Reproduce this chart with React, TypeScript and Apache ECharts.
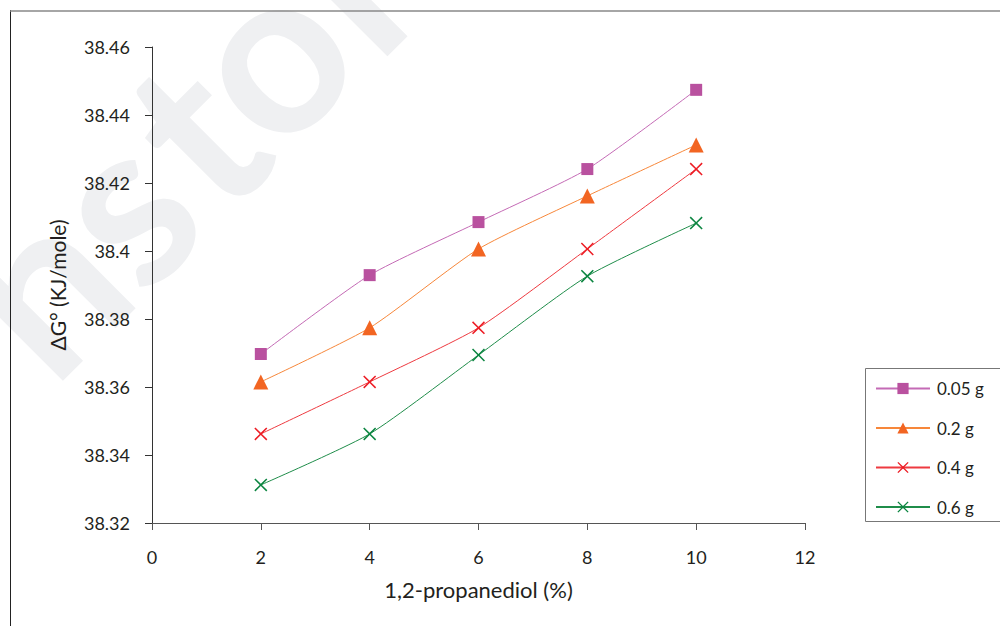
import React, { useEffect, useRef } from "react";
import * as echarts from "echarts";

const xValues = [2, 4, 6, 8, 10];
const seriesNames = ["0.05 g", "0.2 g", "0.4 g", "0.6 g"];
const s005 = [38.3697, 38.3929, 38.4085, 38.4241, 38.4474];
const s02 = [38.3615, 38.3774, 38.4006, 38.4162, 38.4312];
const s04 = [38.3462, 38.3615, 38.3774, 38.4006, 38.4241];
const s06 = [38.3312, 38.3462, 38.3694, 38.3926, 38.4082];
const watermarkLetters = ["h", "s", "t", "o", "r"];

const X_PATH =
  "path://M0,1 L1,0 L6,5 L11,0 L12,1 L7,6 L12,11 L11,12 L6,7 L1,12 L0,11 L5,6 Z";

export default function App() {
  const ref = useRef<HTMLDivElement>(null);
  useEffect(() => {
    if (!ref.current) return;
    const chart = echarts.init(ref.current, null, { renderer: "svg" });
    const font = "Lato, 'Open Sans', sans-serif";
    const textColor = "#231f20";
    const pairs = (ys: number[]) => xValues.map((x, i) => [x, ys[i]]);

    const wmPos = [
      [36, 282],
      [117, 201],
      [190, 128],
      [262, 50],
      [345, -27],
    ];

    const mk = (
      name: string,
      data: number[],
      color: string,
      lineColor: string,
      symbol: string,
      size: number | number[]
    ) => ({
      type: "line",
      name,
      data: pairs(data),
      smooth: 0.2,
      symbol,
      symbolSize: size,
      symbolKeepAspect: true,
      showAllSymbol: true,
      itemStyle: { color },
      lineStyle: { color: lineColor, width: 1 },
      emphasis: { disabled: true },
      z: 3,
    });

    chart.setOption({
      animation: false,
      backgroundColor: "#ffffff",
      textStyle: { fontFamily: font },
      graphic: [
        ...watermarkLetters.map((ch, i) => ({
          type: "text",
          x: wmPos[i][0],
          y: wmPos[i][1],
          rotation: Math.PI / 4,
          z: -10,
          silent: true,
          style: {
            text: ch,
            fontSize: 230,
            fontWeight: "bold",
            fontFamily: font,
            fill: "#eff0f2",
            align: "center",
            verticalAlign: "middle",
          },
        })),
        {
          type: "line",
          shape: { x1: 10.5, y1: 10, x2: 10.5, y2: 626 },
          style: { stroke: "#222", lineWidth: 1 },
          z: 5,
        },
        {
          type: "line",
          shape: { x1: 10, y1: 11, x2: 1000, y2: 11 },
          style: { stroke: "#888", lineWidth: 1.5 },
          z: 5,
        },
        {
          type: "rect",
          shape: { x: 865.5, y: 368.5, width: 200, height: 153 },
          style: { fill: "#fff", stroke: "#777", lineWidth: 1 },
          z: 1,
        },
      ],
      grid: { left: 152, right: 195, top: 47, bottom: 103 },
      xAxis: {
        type: "value",
        min: 0,
        max: 12,
        interval: 2,
        name: "1,2-propanediol (%)",
        nameLocation: "middle",
        nameGap: 55,
        nameTextStyle: { fontSize: 22, color: textColor, fontFamily: font },
        axisLine: { lineStyle: { color: "#555", width: 1 } },
        axisTick: { show: true, length: 7, inside: false, lineStyle: { color: "#555" } },
        axisLabel: { fontSize: 18, color: textColor, margin: 25, fontFamily: font },
        splitLine: { show: false },
      },
      yAxis: {
        type: "value",
        min: 38.32,
        max: 38.46,
        interval: 0.02,
        name: "ΔG° (KJ/mole)",
        nameLocation: "middle",
        nameGap: 84,
        nameRotate: 90,
        nameTextStyle: { fontSize: 21, color: textColor, fontFamily: font },
        axisLine: { show: true, lineStyle: { color: "#333", width: 1 } },
        axisTick: { show: true, length: 7, lineStyle: { color: "#333" } },
        axisLabel: {
          fontSize: 18,
          color: textColor,
          margin: 22,
          fontFamily: font,
          formatter: (v: number) => String(parseFloat(v.toFixed(2))),
        },
        splitLine: { show: false },
      },
      legend: {
        orient: "vertical",
        left: 875,
        top: 380,
        itemWidth: 54,
        itemHeight: 14,
        itemGap: 22.5,
        padding: 0,
        textStyle: { fontSize: 17, color: textColor, fontFamily: font, padding: [0, 0, 0, 2] },
        data: seriesNames,
        z: 4,
      },
      series: [
        mk(seriesNames[0], s005, "#b9519f", "#c46ab5", "rect", 12),
        mk(seriesNames[1], s02, "#f26522", "#f7873a", "triangle", 15),
        mk(seriesNames[2], s04, "#ed1c24", "#ee3a40", X_PATH, 13),
        mk(seriesNames[3], s06, "#0b8540", "#1f8d4a", X_PATH, 13),
      ],
    });
    return () => chart.dispose();
  }, []);
  return (
    <div
      ref={ref}
      style={{ position: "fixed", left: 0, top: 0, width: 1000, height: 626 }}
    />
  );
}
